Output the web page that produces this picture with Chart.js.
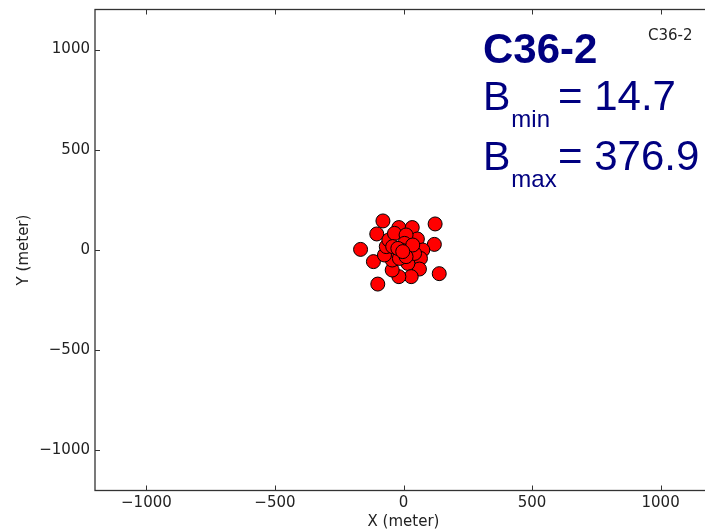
<!DOCTYPE html>
<html>
<head>
<meta charset="utf-8">
<script src="https://cdn.jsdelivr.net/npm/chart.js@4"></script>
<style>
  html, body { margin: 0; padding: 0; background: #fff; overflow: hidden; }
</style>
</head>
<body>
<canvas id="chart" width="714" height="531"></canvas>
<script>
// station positions (meter)
const xValues = [-80, -104, -167, -117, -100, -18, 34, 123, 54, 120, 139, 75, 66, 62, 17, 30, -18, -44, -44, -74, -67, -57, -35, 10, 4, 23, -9, 43, -16, 36, -42, 10, -22, -3];
const yValues = [145, 80, 3, -58, -170, 112, 112, 130, 55, 28, -118, 0, -42, -95, -67, -133, -133, -100, -50, -25, 17, 50, 83, 75, 33, 0, 0, -17, -42, 25, 17, -33, 8, -8];

const xTicks = [-1000, -500, 0, 500, 1000];
const yTicks = [-1000, -500, 0, 500, 1000];
const axisRange = [-1200, 1200];

const configName = 'C36-2';
const bMin = '14.7';
const bMax = '376.9';

const navy = '#000080';

function fmt(v) {
    return v < 0 ? '\u2212' + Math.abs(v) : String(v);
}

// frame + inward tick marks + text labels
const framePlugin = {
    id: 'frame',
    afterDraw(chart) {
        const ctx = chart.ctx;
        const a = chart.chartArea;
        const xs = chart.scales.x;
        const ys = chart.scales.y;
        ctx.save();
        ctx.strokeStyle = '#333';
        ctx.lineWidth = 1.3;
        ctx.strokeRect(a.left, a.top, a.right - a.left, a.bottom - a.top);
        ctx.lineWidth = 1;
        xTicks.forEach(v => {
            const px = Math.round(xs.getPixelForValue(v)) + 0.5;
            ctx.beginPath();
            ctx.moveTo(px, a.bottom); ctx.lineTo(px, a.bottom - 5);
            ctx.moveTo(px, a.top); ctx.lineTo(px, a.top + 5);
            ctx.stroke();
        });
        yTicks.forEach(v => {
            const py = Math.round(ys.getPixelForValue(v)) + 0.5;
            ctx.beginPath();
            ctx.moveTo(a.left, py); ctx.lineTo(a.left + 5, py);
            ctx.stroke();
        });

        // small label top right
        ctx.fillStyle = '#222';
        ctx.font = '15px "DejaVu Sans"';
        ctx.textBaseline = 'alphabetic';
        ctx.textAlign = 'left';
        ctx.fillText(configName, 648, 40);

        // big labels
        ctx.fillStyle = navy;
        ctx.font = 'bold 42px "Liberation Sans"';
        ctx.fillText(configName, 483, 63);

        function bLine(sub, val, base) {
            ctx.font = '41px "Liberation Sans"';
            ctx.fillText('B', 483, base);
            const x = 483 + ctx.measureText('B').width + 1;
            ctx.font = '24px "Liberation Sans"';
            ctx.fillText(sub, x, base + 17);
            ctx.font = '42px "Liberation Sans"';
            ctx.fillText('= ' + val, 558, base);
        }
        bLine('min', bMin, 110);
        bLine('max', bMax, 170);
        ctx.restore();
    }
};

const ctx = document.getElementById('chart').getContext('2d');
new Chart(ctx, {
    type: 'scatter',
    data: {
        datasets: [{
            data: xValues.map((x, i) => ({ x: x, y: yValues[i] })),
            backgroundColor: '#ff0000',
            borderColor: '#000',
            borderWidth: 1,
            pointRadius: 7,
            pointHoverRadius: 7
        }]
    },
    options: {
        responsive: false,
        animation: false,
        layout: { autoPadding: false, padding: { top: 9.5, right: 2, left: 0, bottom: 0 } },
        plugins: {
            legend: { display: false },
            tooltip: { enabled: false }
        },
        scales: {
            x: {
                type: 'linear',
                min: axisRange[0],
                max: axisRange[1],
                afterBuildTicks: s => { s.ticks = xTicks.map(v => ({ value: v })); },
                afterFit: s => { s.height = 40.5; s.paddingLeft = 0; s.paddingRight = 0; },
                grid: { display: false, drawTicks: false },
                border: { display: false },
                ticks: {
                    padding: 4,
                    color: '#222',
                    font: { family: 'DejaVu Sans', size: 15 },
                    callback: v => fmt(v)
                },
                title: {
                    display: true,
                    text: 'X (meter)',
                    color: '#222',
                    font: { family: 'DejaVu Sans', size: 15 },
                    padding: { top: 0, bottom: 0 }
                }
            },
            y: {
                type: 'linear',
                min: axisRange[0],
                max: axisRange[1],
                afterBuildTicks: s => { s.ticks = yTicks.map(v => ({ value: v })); },
                afterFit: s => { s.width = 95; s.paddingTop = 0; s.paddingBottom = 0; },
                grid: { display: false, drawTicks: false },
                border: { display: false },
                ticks: {
                    padding: 5,
                    color: '#222',
                    font: { family: 'DejaVu Sans', size: 15 },
                    callback: v => fmt(v)
                },
                title: {
                    display: true,
                    text: 'Y (meter)',
                    color: '#222',
                    font: { family: 'DejaVu Sans', size: 15 },
                    padding: { top: 15, bottom: 0 }
                }
            }
        }
    },
    plugins: [framePlugin]
});
</script>
</body>
</html>
